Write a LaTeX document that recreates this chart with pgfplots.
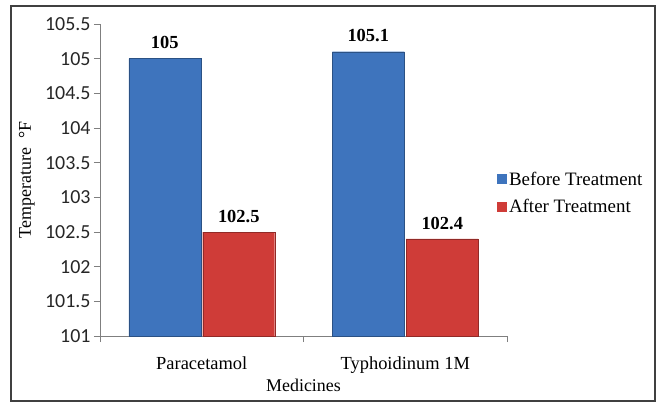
\documentclass[border=0pt]{standalone}
\usepackage{pgfplots}
\pgfplotsset{compat=1.18}
\usepackage{fontspec}
\setmainfont{Liberation Serif}
\newfontfamily\carlito{Carlito}
\definecolor{barblue}{HTML}{3E74BD}
\definecolor{barred}{HTML}{CF3C38}
\definecolor{axisgray}{HTML}{7F7F7F}
\begin{document}
\begin{tikzpicture}
\begin{axis}[
    scale only axis, width=407bp, height=312bp,
    ybar, bar width=72bp,
    xmin=-0.5, xmax=1.5, ymin=101, ymax=105.5,
    ytick={101,101.5,102,102.5,103,103.5,104,104.5,105,105.5},
    xtick={-0.5,0.5,1.5}, xticklabels={},
    extra x ticks={0,1},
    extra x tick labels={Paracetamol,Typhoidinum 1M},
    extra x tick style={major tick length=0bp, xticklabel style={yshift=-17bp}},
    axis lines*=left,
    axis line style={axisgray, line width=0.9bp},
    tick style={axisgray, line width=0.9bp},
    tick align=outside, major tick length=6bp,
    /pgf/number format/assume math mode=true,
    yticklabel style={font=\carlito\fontsize{20}{22}\selectfont, text=black!85},
    xticklabel style={font=\fontsize{18.5}{20}\selectfont},
    every axis y label/.style={at={(axis description cs:-0.18,0.5)}, rotate=90, anchor=center},
    every axis x label/.style={at={(axis description cs:0.5,-0.157)}, anchor=center},
    label style={font=\fontsize{18}{20}\selectfont},
    ylabel={Temperature~~°F},
    xlabel={Medicines},
    nodes near coords,
    every node near coord/.append style={font=\bfseries\fontsize{18.5}{20}\selectfont, yshift=6bp},
    legend style={at={(axis description cs:0.975,0.458)}, anchor=west,
        draw=none, fill=none, inner sep=0pt, row sep=9bp,
        font=\fontsize{19}{21}\selectfont, cells={anchor=west}},
    legend image code/.code={\draw[#1, draw=none] (0bp,-4.5bp) rectangle (10bp,5.5bp);},
]
\addplot[fill=barblue, draw=barblue!70!black] coordinates {(0,105) (1,105.1)};
\addlegendentry{Before Treatment}
\addplot[fill=barred, draw=barred!70!black] coordinates {(0,102.5) (1,102.4)};
\addlegendentry{After Treatment}
\end{axis}
\pgfresetboundingbox
\path[use as bounding box] ([shift={(-100bp,-67bp)}]current axis.south west) rectangle ++(659bp,403bp);
\draw[line width=1.3bp, black!75] ([shift={(-89bp,-65bp)}]current axis.south west) rectangle ([shift={(555bp,330bp)}]current axis.south west);
\end{tikzpicture}
\end{document}
